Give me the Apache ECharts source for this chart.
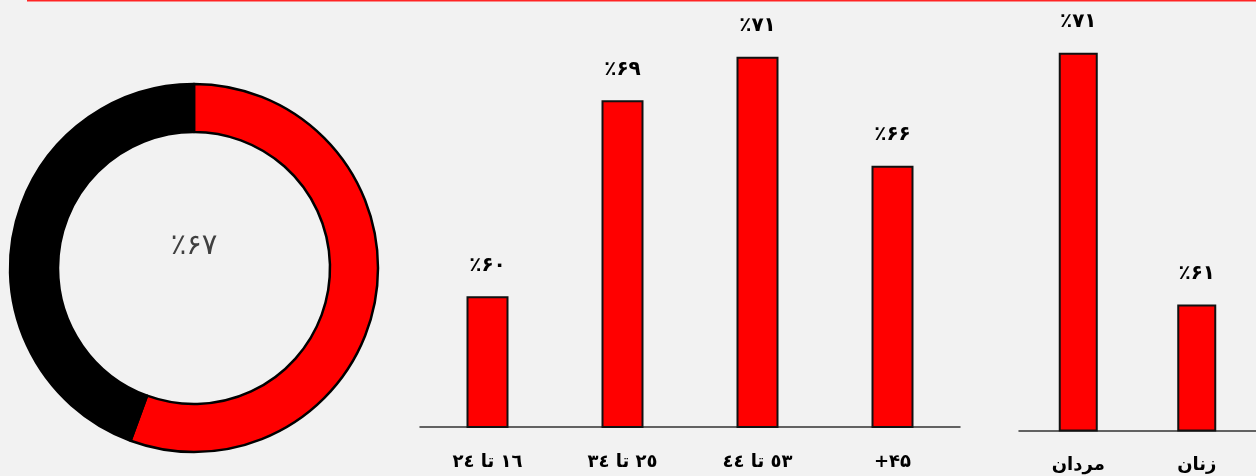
<!DOCTYPE html>
<html>
<head>
<meta charset="utf-8">
<script src="https://cdn.jsdelivr.net/npm/echarts@6/dist/echarts.min.js"></script>
<style>
html,body{margin:0;padding:0;background:#f2f2f2;}
#c{width:1256px;height:476px;}
</style>
</head>
<body>
<div id="c"></div>
<script>
// Donut
const donutNames = ['بله', 'خیر'];
const donutValues = [55.6, 44.4];
const donutLabel = '٪۶۷';

// Age groups
const ageCategories = ['١٦ تا ٢٤', '٢٥ تا ٣٤', '٥٣ تا ٤٤', '+۴۵'];
const ageValues = [60, 69, 71, 66];

// Gender
const genderCategories = ['مردان', 'زنان'];
const genderValues = [71, 61];

const FONT = 'DejaVu Sans';
function fa(n){ return String(n).replace(/[0-9]/g, d => '۰۱۲۳۴۵۶۷۸۹'[d]); }
function pctLabel(p){ return '٪' + fa(p.value); }

const chart = echarts.init(document.getElementById('c'));
const barLabel = {
  show: true, position: 'top', distance: 21,
  formatter: pctLabel, color: '#000', fontFamily: FONT, fontWeight: 'bold', fontSize: 20
};
const axisLbl = { color: '#000', fontFamily: FONT, fontWeight: 'bold', fontSize: 18, margin: 26 };

chart.setOption({
  backgroundColor: '#f2f2f2',
  animation: false,
  graphic: [
    { type: 'line', shape: { x1: 27, y1: 0.5, x2: 1256, y2: 0.5 }, style: { stroke: '#ff2525', lineWidth: 2 } },
    { type: 'text', x: 194, y: 246, style: { text: donutLabel, fill: '#404040', font: '29px "DejaVu Sans"', textAlign: 'center', textVerticalAlign: 'middle' } }
  ],
  grid: [
    { left: 420, width: 540, top: 35, height: 392 },
    { left: 1019, width: 248, top: 27.5, height: 403 }
  ],
  xAxis: [
    { type: 'category', gridIndex: 0, data: ageCategories, axisTick: { show: false },
      axisLine: { lineStyle: { color: '#333', width: 1.5 } }, axisLabel: axisLbl },
    { type: 'category', gridIndex: 1, data: genderCategories, axisTick: { show: false },
      axisLine: { lineStyle: { color: '#333', width: 1.5 } }, axisLabel: axisLbl }
  ],
  yAxis: [
    { type: 'value', gridIndex: 0, min: 54, max: 72, show: false, splitLine: { show: false } },
    { type: 'value', gridIndex: 1, min: 56, max: 72, show: false, splitLine: { show: false } }
  ],
  series: [
    {
      type: 'pie', center: [194, 268], radius: [136, 184], startAngle: 90, clockwise: true,
      label: { show: false }, labelLine: { show: false }, silent: true,
      data: donutNames.map((n, i) => ({
        name: n, value: donutValues[i],
        itemStyle: { color: i === 0 ? '#ff0000' : '#000000', borderColor: '#000', borderWidth: 2.5 }
      }))
    },
    {
      type: 'bar', xAxisIndex: 0, yAxisIndex: 0, data: ageValues, barWidth: 42,
      itemStyle: { color: '#ff0000', borderColor: '#111', borderWidth: 2 }, label: barLabel
    },
    {
      type: 'bar', xAxisIndex: 1, yAxisIndex: 1, data: genderValues, barWidth: 39,
      itemStyle: { color: '#ff0000', borderColor: '#111', borderWidth: 2 }, label: barLabel
    }
  ]
});
</script>
</body>
</html>
